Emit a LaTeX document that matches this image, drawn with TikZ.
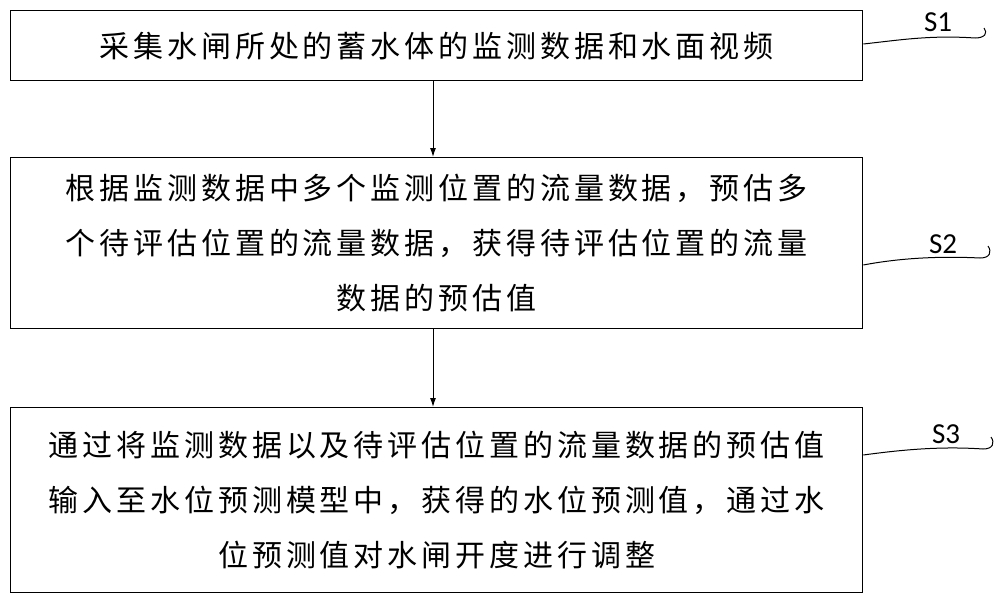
\documentclass[tikz,border=0pt]{standalone}
\usepackage{fontspec}
\usetikzlibrary{arrows.meta}
\setmainfont{Carlito}
\newfontfamily\cjk[LetterSpace=13]{Noto Sans CJK SC}
\begin{document}
\begin{tikzpicture}[x=1pt,y=-1pt,
  stepbox/.style={draw,line width=1.3pt,anchor=north west,inner sep=0pt,font=\cjk\fontsize{30}{55}\selectfont,align=center},
  arr/.style={-{Latex[length=9pt,width=6pt]},line width=1pt},
  lab/.style={font=\fontsize{29}{32}\selectfont}]
\useasboundingbox (0,0) rectangle (1000,602);
\node[stepbox,minimum width=852,minimum height=70] (b1) at (10,10) {采集水闸所处的蓄水体的监测数据和水面视频};
\node[stepbox,minimum width=852,minimum height=171] (b2) at (10,157) {根据监测数据中多个监测位置的流量数据，预估多\\个待评估位置的流量数据，获得待评估位置的流量\\数据的预估值};
\node[stepbox,minimum width=852,minimum height=185] (b3) at (10,407) {通过将监测数据以及待评估位置的流量数据的预估值\\输入至水位预测模型中，获得的水位预测值，通过水\\位预测值对水闸开度进行调整};
\draw[arr] (b1.south -| 433,0) -- (b2.north -| 433,0);
\draw[arr] (b2.south -| 433,0) -- (b3.north -| 433,0);
\node[lab] (s1) at (938,22) {S1};
\node[lab] (s2) at (943,244) {S2};
\node[lab] (s3) at (946,434) {S3};
\draw[line width=1pt] (b1.east |- 0,44) .. controls (900,40) and (930,35) .. (975,38) .. controls (985,38) and (988,33) .. (984,28);
\draw[line width=1pt] (b2.east |- 0,265) .. controls (900,258) and (940,256) .. (980,258) .. controls (990,258) and (992,252) .. (988,246);
\draw[line width=1pt] (b3.east |- 0,455) .. controls (900,450) and (940,446) .. (983,449) .. controls (993,449) and (995,443) .. (991,437);
\end{tikzpicture}
\end{document}
